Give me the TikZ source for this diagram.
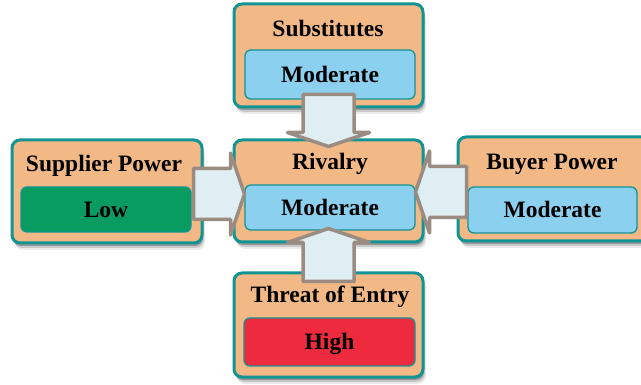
\documentclass[tikz,border=0pt]{standalone}
\usepackage{fontspec}
\setmainfont{Liberation Serif}
\usetikzlibrary{calc,shadows}

\definecolor{boxorange}{RGB}{242,184,134}
\definecolor{tealrim}{RGB}{18,148,148}
\definecolor{ratemoderate}{RGB}{140,208,240}
\definecolor{ratelow}{RGB}{8,156,96}
\definecolor{ratehigh}{RGB}{238,42,62}
\definecolor{arrowfill}{RGB}{222,238,243}
\definecolor{arrowrim}{RGB}{155,140,130}

\tikzset{
  forcebox/.style={draw=tealrim, line width=3pt, fill=boxorange,
    rounded corners=8pt, inner sep=0pt,
    drop shadow={shadow xshift=3pt, shadow yshift=-7pt, opacity=0.08, fill=black},
    drop shadow={shadow xshift=2pt, shadow yshift=-5pt, opacity=0.14, fill=black},
    drop shadow={shadow xshift=1pt, shadow yshift=-3pt, opacity=0.25, fill=black}},
  ratingbox/.style={draw=tealrim, line width=1.3pt, rounded corners=6pt,
    inner sep=0pt, text height=15.2pt, text depth=0pt,
    font=\fontsize{23.5}{26}\selectfont\bfseries},
  forcetitle/.style={anchor=base, inner sep=0pt,
    font=\fontsize{23.5}{26}\selectfont\bfseries},
  blockarrow/.style={draw=arrowrim, fill=arrowfill, line width=3.5pt,
    line join=round},
}

% block arrow from tail coordinate #1 to tip coordinate #2, helper name #3
\newcommand\forcearrow[3]{%
  \coordinate (#3-h) at ($(#2)!14pt!(#1)$);
  \draw[blockarrow]
    ($(#1)!25.5pt!90:(#2)$) -- ($(#3-h)!25.5pt!90:(#2)$) --
    ($(#3-h)!41pt!90:(#2)$) -- (#2) --
    ($(#3-h)!41pt!-90:(#2)$) -- ($(#3-h)!25.5pt!-90:(#2)$) --
    ($(#1)!25.5pt!-90:(#2)$) -- cycle;}

\begin{document}
\begin{tikzpicture}[x=1pt,y=-1pt]
  \clip (0,0) rectangle (641,385);
  \fill[white] (0,0) rectangle (641,385);

  % the five forces
  \node[forcebox, minimum width=189pt, minimum height=103pt] (sub) at (328.5,55.5) {};
  \node[forcebox, minimum width=189pt, minimum height=102pt] (riv) at (328.5,191) {};
  \node[forcebox, minimum width=190pt, minimum height=103pt] (sup) at (107,191.5) {};
  \node[forcebox, minimum width=202pt, minimum height=104pt] (buy) at (559,189) {};
  \node[forcebox, minimum width=189pt, minimum height=104pt] (thr) at (328.5,325) {};

  % ratings
  \node[ratingbox, fill=ratemoderate, minimum width=170pt, minimum height=49pt] (subr) at (330,74.5) {Moderate};
  \node[ratingbox, fill=ratemoderate, minimum width=170pt, minimum height=45pt] (rivr) at (330,207.5) {Moderate};
  \node[ratingbox, fill=ratelow, minimum width=170pt, minimum height=45pt] (supr) at (106,209.5) {Low};
  \node[ratingbox, fill=ratemoderate, minimum width=169pt, minimum height=46pt] (buyr) at (552.5,210) {Moderate};
  \node[ratingbox, fill=ratehigh, minimum width=171pt, minimum height=48pt] (thrr) at (329.5,342) {High};

  % titles
  \node[forcetitle] (subt) at (328,37) {Substitutes};
  \node[forcetitle] (rivt) at (330,170) {Rivalry};
  \node[forcetitle] (supt) at (104,172) {Supplier Power};
  \node[forcetitle] (buyt) at (552,170) {Buyer Power};
  \node[forcetitle] (thrt) at (330,303) {Threat of Entry};

  % arrow ends
  \coordinate (subtail) at ([yshift=14pt]sub.south);
  \coordinate (subtip)  at ([yshift=-8pt]riv.north);
  \coordinate (thrtail) at ([yshift=-10pt]thr.north);
  \coordinate (thrtip)  at ([yshift=15pt]riv.south);
  \coordinate (suptail) at ([xshift=-10pt,yshift=-2.5pt]sup.east);
  \coordinate (suptip)  at ([xshift=12pt,yshift=-3pt]riv.west);
  \coordinate (buytail) at ([xshift=10pt,yshift=-3pt]buy.west);
  \coordinate (buytip)  at ([xshift=-9pt,yshift=-1pt]riv.east);

  \forcearrow{subtail}{subtip}{suba}
  \forcearrow{thrtail}{thrtip}{thra}
  \forcearrow{suptail}{suptip}{supa}
  \forcearrow{buytail}{buytip}{buya}
\end{tikzpicture}
\end{document}
